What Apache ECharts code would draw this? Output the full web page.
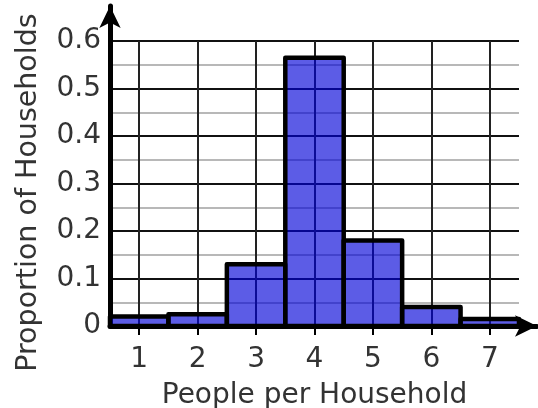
<!DOCTYPE html>
<html>
<head>
<meta charset="utf-8">
<script src="https://cdn.jsdelivr.net/npm/echarts/dist/echarts.min.js"></script>
<style>
  html, body { margin: 0; padding: 0; background: #fff; }
  #chart { width: 538px; height: 408px; }
</style>
</head>
<body>
<div id="chart"></div>
<script>
// people per household and the share of households for each
var people = [1, 2, 3, 4, 5, 6, 7];
var proportion = [0.02, 0.025, 0.13, 0.565, 0.18, 0.04, 0.015];

// y grid: major lines every 0.1, lighter lines halfway between
var yGridValues = [0, 0.05, 0.1, 0.15, 0.2, 0.25, 0.3, 0.35, 0.4, 0.45, 0.5, 0.55, 0.6];
var yLabelValues = [0, 0.1, 0.2, 0.3, 0.4, 0.5, 0.6];

var textColor = '#333';
var fontFamily = '"DejaVu Sans", Verdana, sans-serif';

var barData = people.map(function (p, i) { return [p, proportion[i]]; });

function renderBar(params, api) {
  var x = api.value(0);
  var y = api.value(1);
  var topLeft = api.coord([x - 0.5, y]);
  var bottomRight = api.coord([x + 0.5, 0]);
  return {
    type: 'rect',
    shape: {
      x: topLeft[0],
      y: topLeft[1],
      width: bottomRight[0] - topLeft[0],
      height: bottomRight[1] - topLeft[1]
    },
    style: {
      fill: 'rgba(0, 0, 216, 0.64)',
      stroke: '#000',
      lineWidth: 4.5,
      lineJoin: 'round'
    }
  };
}

var chart = echarts.init(document.getElementById('chart'));
chart.setOption({
  animation: false,
  backgroundColor: '#fff',
  grid: [
    { left: 110, right: 19, top: 41, bottom: 82, outerBoundsMode: 'none', containLabel: false },
    { left: 110, right: 1, top: 6, bottom: 82, outerBoundsMode: 'none', containLabel: false }
  ],
  xAxis: [{
    gridIndex: 0,
    type: 'value',
    min: 0.5,
    max: 7.5,
    name: 'People per Household',
    nameLocation: 'middle',
    nameGap: 56,
    nameTextStyle: { color: textColor, fontSize: 28, fontFamily: fontFamily },
    axisLine: { show: false },
    axisTick: {
      show: true,
      customValues: people,
      length: 9,
      lineStyle: { color: '#000', width: 2 }
    },
    axisLabel: {
      customValues: people,
      margin: 20,
      color: textColor,
      fontSize: 28,
      fontFamily: fontFamily
    },
    splitLine: { show: true, lineStyle: { color: '#222', width: 2 } }
  }, {
    gridIndex: 1,
    type: 'value',
    min: 0,
    max: 1,
    axisLine: {
      show: true,
      symbol: ['none', 'arrow'],
      symbolSize: [16, 22],
      lineStyle: { color: '#000', width: 5 }
    },
    axisTick: { show: false },
    axisLabel: { show: false },
    splitLine: { show: false }
  }],
  yAxis: [{
    gridIndex: 0,
    type: 'value',
    min: 0,
    max: 0.6,
    name: 'Proportion of Households',
    nameLocation: 'middle',
    nameGap: 67,
    nameTextStyle: {
      color: textColor,
      fontSize: 28.5,
      fontFamily: fontFamily,
      padding: [0, 18, 0, 0]
    },
    axisLine: { show: false },
    axisTick: { show: false, customValues: yGridValues },
    axisLabel: {
      customValues: yLabelValues,
      margin: 9,
      padding: [5, 0, 0, 0],
      color: textColor,
      fontSize: 28,
      fontFamily: fontFamily
    },
    splitLine: { show: true, lineStyle: { color: ['#111', '#b8b8b8'], width: 2 } }
  }, {
    gridIndex: 1,
    type: 'value',
    min: 0,
    max: 1,
    axisLine: {
      show: true,
      symbol: ['none', 'arrow'],
      symbolSize: [16, 22],
      lineStyle: { color: '#000', width: 5 }
    },
    axisTick: { show: false },
    axisLabel: { show: false },
    splitLine: { show: false }
  }],
  series: [{
    type: 'custom',
    xAxisIndex: 0,
    yAxisIndex: 0,
    renderItem: renderBar,
    encode: { x: 0, y: 1 },
    data: barData,
    z: 5
  }]
});
</script>
</body>
</html>
